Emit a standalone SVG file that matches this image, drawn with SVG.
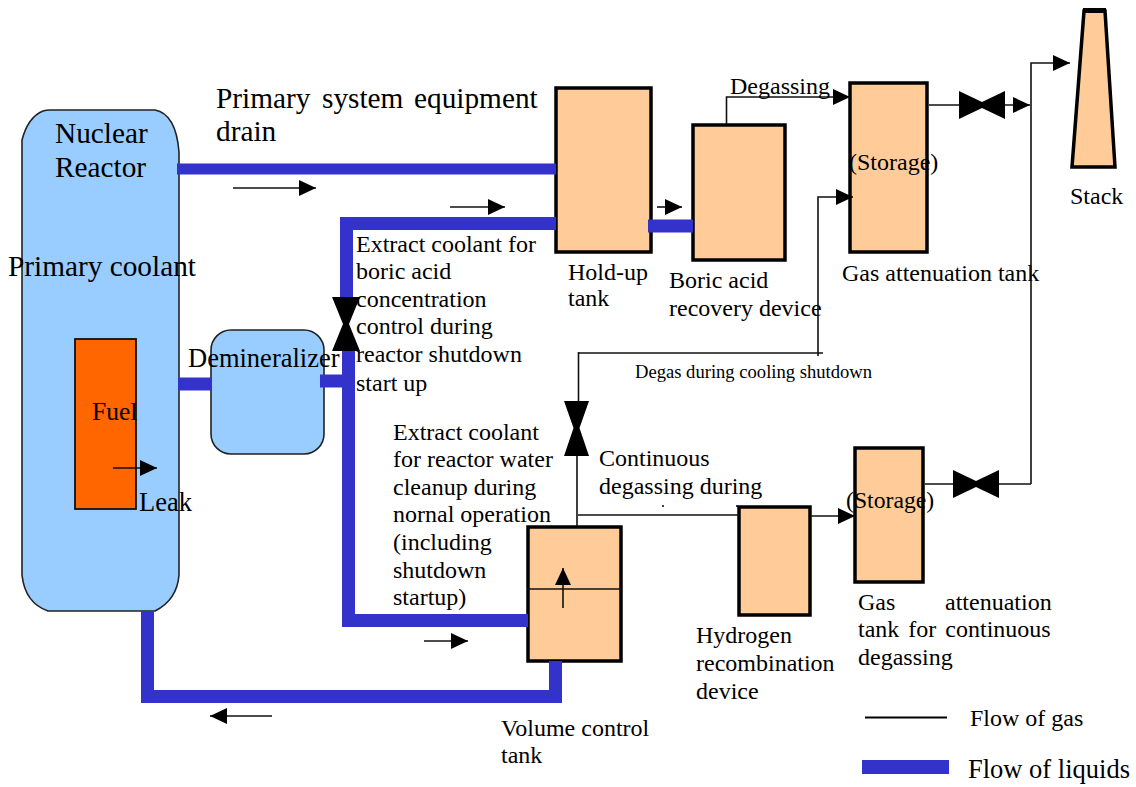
<svg xmlns="http://www.w3.org/2000/svg" width="1136" height="787" viewBox="0 0 1136 787">
<style>
text{font-family:"Liberation Serif","Times New Roman",serif;fill:#000}
.t{font-size:24px}.b{font-size:29.300px}.m{font-size:26.5px}.s{font-size:18.6px}
.n{stroke:#000;stroke-width:3.5}
.th{stroke:#222;stroke-width:1.6}
.o{fill:#ffcc99}.u{fill:#99ccff}
.liq{fill:none;stroke:#3333cc;stroke-width:13}
.gas{fill:none;stroke:#111;stroke-width:1.6}
.v{fill:#000}
</style>
<defs><marker id="a" markerWidth="18" markerHeight="18" refX="17" refY="8.5" orient="auto" markerUnits="userSpaceOnUse"><path d="M0 0.5L17 8.5L0 16.5Z" fill="#000"/></marker></defs>
<rect width="1136" height="787" fill="#fff"/>
<g id="reactor"><path class="th u" d="M22 140Q28 117 43 111Q46 110 50 110H155Q176 114 179 152V575Q177 600 155 611H48Q25 603 22 575Z"/><text class="b" x="55" y="143">Nuclear</text><text class="b" x="55" y="177">Reactor</text><text class="b" x="8" y="276">Primary coolant</text></g>
<g id="fuel"><rect x="75" y="339" width="61" height="170" fill="#ff6600" stroke="#111" stroke-width="1.8"/><text class="m" x="92" y="420" style="font-size:25.5px">Fuel</text><text class="m" x="139" y="511">Leak</text></g>
<g id="demineralizer"><rect class="th u" x="211" y="330" width="113" height="124" rx="20"/><text class="m" x="188" y="367">Demineralizer</text></g>
<g id="holdup"><rect class="n o" x="556" y="88" width="95" height="164"/><text class="t" x="568" y="280">Hold-up</text><text class="t" x="568" y="306">tank</text></g>
<g id="boric"><rect class="n o" x="693" y="125" width="92" height="135"/><text class="t" x="669" y="288">Boric acid</text><text class="t" x="669" y="316">recovery device</text></g>
<g id="gas-attenuation"><rect class="n o" x="850" y="83" width="77" height="169"/><text class="t" x="849" y="170">(Storage)</text><text class="t" x="842" y="281">Gas attenuation tank</text></g>
<g id="stack"><path class="n o" d="M1084 11H1105L1115 167H1072Z"/><path d="M1083 10.500H1106" stroke="#000" stroke-width="5"/><text class="t" x="1070" y="204">Stack</text></g>
<g id="volume"><rect class="n o" x="528" y="527" width="93" height="134"/><path class="gas" d="M527 589H622"/><path class="gas" d="M563 608V568" marker-end="url(#a)"/><text class="t" x="501" y="736">Volume control</text><text class="t" x="501" y="763">tank</text></g>
<g id="hydrogen"><rect class="n o" x="739" y="507" width="71" height="108"/><text class="t" x="696" y="643">Hydrogen</text><text class="t" x="696" y="671">recombination</text><text class="t" x="696" y="699">device</text></g>
<g id="gas-continuous"><rect class="n o" x="855" y="448" width="68" height="134"/><text class="t" x="846" y="508" style="font-size:23.700px">(Storage)</text><text class="t" x="858" y="610">Gas</text><text class="t" x="945" y="610">attenuation</text><text class="t" x="858" y="637" style="word-spacing:3px">tank for continuous</text><text class="t" x="858" y="665">degassing</text></g>
<g id="connectors">
<path class="liq" style="stroke-width:11" d="M177 169H556"/>
<path class="liq" d="M556 223.500H346.500V300"/>
<path class="liq" d="M348.500 351V620.500H528"/>
<path class="liq" d="M178 384H211"/>
<path class="liq" d="M320 381H348"/>
<path class="liq" d="M648 226H693"/>
<path class="liq" d="M147.500 611V696.500H555.500V661"/>
<path class="gas" d="M233 188H316" marker-end="url(#a)"/>
<path class="gas" d="M450 207H505" marker-end="url(#a)"/>
<path class="gas" d="M657 207H682" marker-end="url(#a)"/>
<path class="gas" d="M424 641H468" marker-end="url(#a)"/>
<path class="gas" d="M272 716H210" marker-end="url(#a)"/>
<path class="gas" d="M113 468H157" marker-end="url(#a)"/>
<path class="gas" d="M726.500 124V97H850" marker-end="url(#a)"/>
<path class="gas" d="M929 105H1030" marker-end="url(#a)"/>
<path class="gas" d="M1031 484V63H1070" marker-end="url(#a)"/>
<path class="gas" d="M925 484H1031"/>
<path class="gas" d="M823 353H579M818 356V197H853" marker-end="url(#a)"/>
<path class="gas" d="M578.500 352V402M577 455V526"/>
<path class="gas" d="M578 515H739"/>
<path class="gas" d="M810 516H855" marker-end="url(#a)"/>
<path class="gas" d="M663 505V507M737 505V507"/>
</g>
<g id="valves">
<path class="v" d="M959 91L982 102L1005 91V119L982 108L959 119Z"/>
<path class="v" d="M953 470L976 481L999 470V498L976 487L953 498Z"/>
<path class="v" d="M332 297H360L349 324L360 351H332L343 324Z"/>
<path class="v" d="M564 401H589L579.500 428L589 456H564L573.500 428Z"/>
</g>
<g id="labels">
<text class="b" x="216" y="108">Primary</text><text class="b" x="322" y="108">system</text><text class="b" x="414" y="108">equipment</text><text class="b" x="216" y="141">drain</text>
<text class="t" x="730" y="94">Degassing</text>
<text class="t" x="356" y="252">Extract coolant for</text><text class="t" x="356" y="279">boric acid</text><text class="t" x="356" y="307">concentration</text><text class="t" x="356" y="334">control during</text><text class="t" x="356" y="362">reactor shutdown</text><text class="t" x="356" y="391">start up</text>
<text class="s" x="635" y="378">Degas during cooling shutdown</text>
<text class="t" x="599" y="466">Continuous</text><text class="t" x="599" y="494">degassing during</text>
<text class="t" x="393" y="440">Extract coolant</text><text class="t" x="393" y="467">for reactor water</text><text class="t" x="393" y="495">cleanup during</text><text class="t" x="393" y="522">nornal operation</text><text class="t" x="393" y="550">(including</text><text class="t" x="393" y="578">shutdown</text><text class="t" x="393" y="605">startup)</text>
</g>
<g id="legend"><path d="M865 717.500H947" stroke="#000" stroke-width="2"/><path d="M862 767H949" stroke="#3333cc" stroke-width="14"/><text class="t" x="970" y="726">Flow of gas</text><text class="t" x="968" y="778" style="font-size:26.500px">Flow of liquids</text></g>
</svg>
